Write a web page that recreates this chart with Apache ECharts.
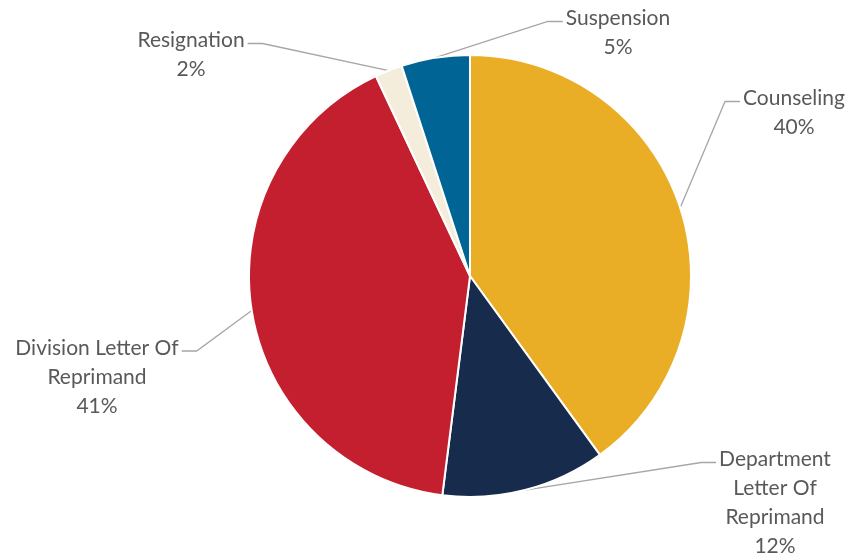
<!DOCTYPE html>
<html>
<head>
<meta charset="utf-8">
<script src="https://cdn.jsdelivr.net/npm/echarts@6/dist/echarts.min.js"></script>
<style>
  html, body { margin: 0; padding: 0; background: #ffffff; }
  #chart { width: 852px; height: 560px; }
</style>
</head>
<body>
<div id="chart"></div>
<script>
// Disciplinary outcomes, clockwise from 12 o'clock
const categories = [
  'Counseling',
  'Department\nLetter Of\nReprimand',
  'Division Letter Of\nReprimand',
  'Resignation',
  'Suspension'
];
const shares = [40, 12, 41, 2, 5];
const sliceColors = ['#E9AE25', '#172B4C', '#C41F2F', '#F4EDDC', '#006494'];

// Where each callout's text block sits (centre of the block)
const labelSpots = [
  [794, 113],
  [775, 503],
  [97, 377],
  [191, 55],
  [618, 33]
];

const LINE_H = 29;
const chart = echarts.init(document.getElementById('chart'));

chart.setOption({
  animation: false,
  backgroundColor: '#ffffff',
  series: [{
    type: 'pie',
    center: [470, 276],
    radius: 221,
    startAngle: 90,
    clockwise: true,
    data: categories.map((name, i) => ({
      name,
      value: shares[i],
      itemStyle: { color: sliceColors[i] }
    })),
    itemStyle: { borderColor: '#ffffff', borderWidth: 2 },
    label: {
      show: true,
      formatter: '{b}\n{d}%',
      fontFamily: 'Lato',
      fontSize: 21,
      lineHeight: LINE_H,
      color: '#595959',
      align: 'center'
    },
    labelLine: {
      show: true,
      length: 20,
      length2: 15,
      lineStyle: { color: '#A6A6A6', width: 1.3 }
    },
    labelLayout: function (params) {
      const p = labelSpots[params.dataIndex];
      const w = params.labelRect.width;
      const h = params.labelRect.height;
      const start = params.labelLinePoints[0];
      // the leader meets the text at its first line, on the side facing the pie
      const onRight = p[0] > start[0];
      const edgeX = onRight ? p[0] - w / 2 - 3 : p[0] + w / 2 + 3;
      const lineY = p[1] - h / 2 + LINE_H / 2 + 3;
      const elbowX = onRight ? edgeX - 15 : edgeX + 15;
      return {
        x: p[0],
        y: p[1],
        align: 'center',
        verticalAlign: 'middle',
        labelLinePoints: [start, [elbowX, lineY], [edgeX, lineY]]
      };
    },
    emphasis: { disabled: true }
  }]
});
</script>
</body>
</html>
